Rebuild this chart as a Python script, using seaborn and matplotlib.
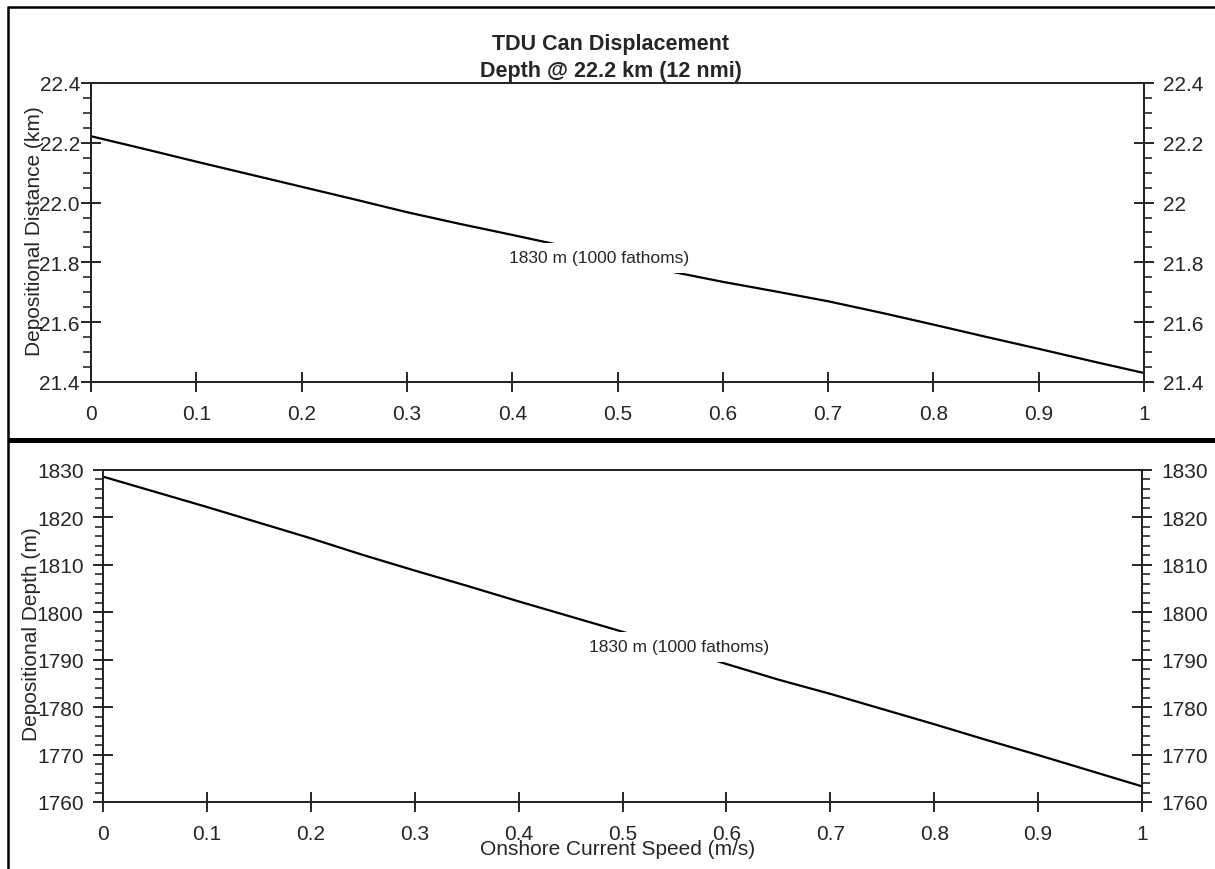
import numpy as np
import pandas as pd
import matplotlib
matplotlib.use("Agg")
import matplotlib.pyplot as plt
from matplotlib.lines import Line2D
from matplotlib.ticker import MultipleLocator, FuncFormatter, FixedLocator
import seaborn as sns

# ---------------- data ----------------
current_speed = [0.00, 0.05, 0.10, 0.15, 0.20, 0.25, 0.30, 0.35, 0.40, 0.45, 0.50,
                 0.55, 0.60, 0.65, 0.70, 0.75, 0.80, 0.85, 0.90, 0.95, 1.00]
dep_distance_km = [22.222, 22.180, 22.137, 22.095, 22.053, 22.011, 21.968, 21.929,
                   21.892, 21.854, 21.813, 21.770, 21.735, 21.703, 21.670, 21.632,
                   21.592, 21.551, 21.511, 21.470, 21.430]
dep_depth_m = [1828.6, 1825.4, 1822.2, 1818.9, 1815.6, 1812.1, 1808.8, 1805.6,
               1802.3, 1799.1, 1795.9, 1792.5, 1789.1, 1785.8, 1782.8, 1779.6,
               1776.4, 1773.1, 1769.9, 1766.6, 1763.3]
series_label = "1830 m (1000 fathoms)"
title_lines = ["TDU Can Displacement", "Depth @ 22.2 km (12 nmi)"]
x_ticks = [0, 0.1, 0.2, 0.3, 0.4, 0.5, 0.6, 0.7, 0.8, 0.9, 1.0]
top_yticks = [21.4, 21.6, 21.8, 22.0, 22.2, 22.4]
bot_yticks = [1760, 1770, 1780, 1790, 1800, 1810, 1820, 1830]

df_top = pd.DataFrame({"speed": current_speed, "dist": dep_distance_km})
df_bot = pd.DataFrame({"speed": current_speed, "depth": dep_depth_m})

# ---------------- style ----------------
sns.set_style("ticks")
plt.rcParams["font.family"] = ["Liberation Sans", "DejaVu Sans"]
plt.rcParams["axes.linewidth"] = 1.4

W, H = 1215, 870
fig = plt.figure(figsize=(W / 100, H / 100), dpi=100)
fig.patch.set_facecolor("white")

def frac_rect(l, t, r, b):
    return [l / W, 1 - b / H, (r - l) / W, (b - t) / H]

ax1 = fig.add_axes(frac_rect(91, 84, 1144, 383))
ax2 = fig.add_axes(frac_rect(103, 471, 1142, 803))

TICK_FS = 15
LABEL_FS = 15

def style_axes(ax, yticks, minor_step, left_fmt, right_fmt, ylim, pad_left):
    ax.set_xlim(0, 1)
    ax.set_ylim(*ylim)
    ax.xaxis.set_major_locator(FixedLocator(x_ticks))
    ax.xaxis.set_major_formatter(FuncFormatter(lambda v, p: f"{v:g}"))
    ax.yaxis.set_major_locator(FixedLocator(yticks))
    ax.yaxis.set_minor_locator(MultipleLocator(minor_step))
    ax.yaxis.set_major_formatter(FuncFormatter(left_fmt))
    ax.tick_params(axis="x", which="major", direction="inout", length=14, width=1.4,
                   labelsize=TICK_FS, pad=9, top=False)
    ax.tick_params(axis="y", which="major", direction="inout", length=14, width=1.4,
                   labelsize=TICK_FS, pad=pad_left)
    ax.tick_params(axis="y", which="minor", direction="out", length=6, width=1.2)
    for s in ax.spines.values():
        s.set_visible(True)
        s.set_linewidth(1.4)
        s.set_color("black")
    ax.grid(False)
    axr = ax.twinx()
    axr.set_ylim(*ylim)
    axr.yaxis.set_major_locator(FixedLocator(yticks))
    axr.yaxis.set_minor_locator(MultipleLocator(minor_step))
    axr.yaxis.set_major_formatter(FuncFormatter(right_fmt))
    axr.tick_params(axis="y", which="major", direction="inout", length=14, width=1.4,
                    labelsize=TICK_FS, pad=7)
    axr.tick_params(axis="y", which="minor", direction="out", length=6, width=1.2)
    for s in axr.spines.values():
        s.set_linewidth(1.4)
    return axr

style_axes(ax1, top_yticks, 0.05, lambda v, p: f"{v:.1f}", lambda v, p: f"{v:g}",
           (21.4, 22.4), 1)
style_axes(ax2, bot_yticks, 2, lambda v, p: f"{v:.0f}", lambda v, p: f"{v:.0f}",
           (1760, 1830), 7)

sns.lineplot(data=df_top, x="speed", y="dist", ax=ax1, color="black", lw=1.6,
             legend=False, zorder=2)
sns.lineplot(data=df_bot, x="speed", y="depth", ax=ax2, color="black", lw=1.6,
             legend=False, zorder=2)
ax1.set_xlim(0, 1); ax1.set_ylim(21.4, 22.4)
ax2.set_xlim(0, 1); ax2.set_ylim(1760, 1830)

bbox = dict(boxstyle="square,pad=0.45", facecolor="white", edgecolor="none")
ax1.text(0.4825, 21.815, series_label, ha="center", va="center", fontsize=12.5,
         bbox=bbox, zorder=5)
ax2.text(0.554, 1792.7, series_label, ha="center", va="center", fontsize=12.5,
         bbox=bbox, zorder=5)

# axis labels
ax1.set_xlabel("")
ax1.set_ylabel("Depositional Distance (km)", fontsize=LABEL_FS, va="center")
ax1.yaxis.set_label_coords(-0.054, 0.507)
ax2.set_ylabel("Depositional Depth (m)", fontsize=LABEL_FS, va="center")
ax2.yaxis.set_label_coords(-0.069, 0.51)
ax2.set_xlabel("Onshore Current Speed (m/s)", fontsize=LABEL_FS, va="top")
ax2.xaxis.set_label_coords(0.495, -0.112)

# title
fig.text(611 / W, 1 - 58 / H, "\n".join(title_lines), ha="center", va="center",
         fontsize=15.5, fontweight="bold", linespacing=1.4)

# frame lines
def fig_line(x0, y0, x1, y1, lw):
    fig.add_artist(Line2D([x0 / W, x1 / W], [1 - y0 / H, 1 - y1 / H], color="black",
                          lw=lw, transform=fig.transFigure, solid_capstyle="butt"))

fig_line(8, 8, 1215, 8, 1.8)
fig_line(8, 7, 8, 870, 1.8)
fig_line(8, 441, 1215, 441, 3.6)

fig.savefig("out.png", dpi=100, facecolor="white")
